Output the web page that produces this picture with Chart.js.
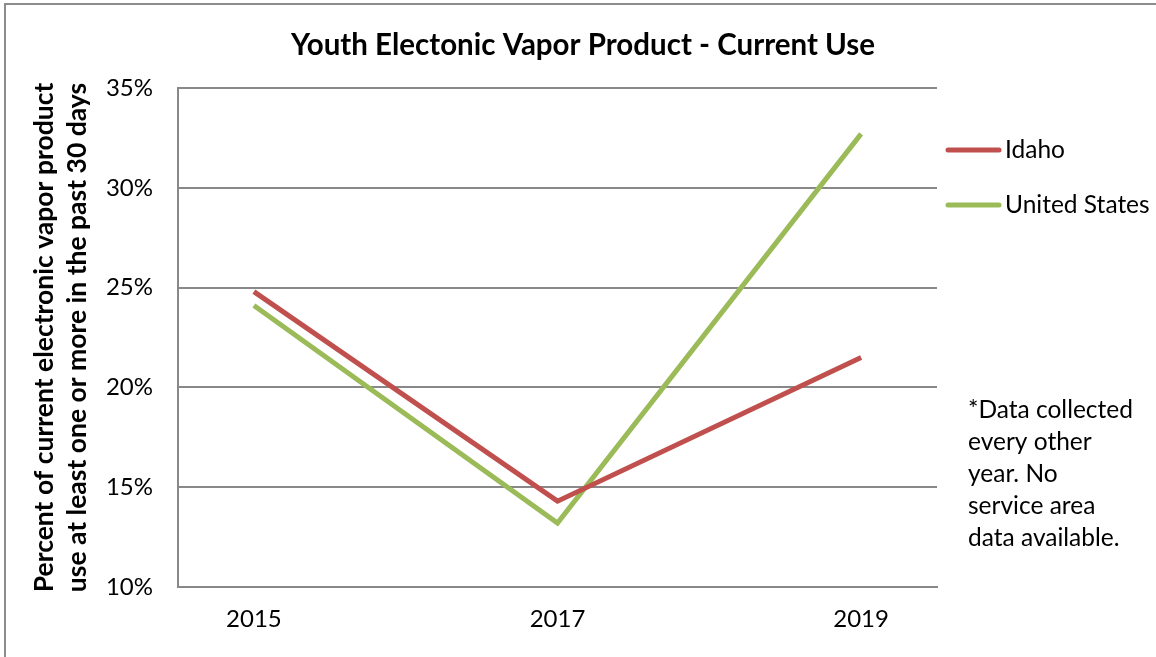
<!DOCTYPE html>
<html>
<head>
<meta charset="utf-8">
<script src="https://cdn.jsdelivr.net/npm/chart.js@4.4.1/dist/chart.umd.min.js"></script>
<style>
  html, body { margin: 0; padding: 0; background: #fff; }
  #wrap { width: 1156px; height: 657px; }
</style>
</head>
<body>
<div id="wrap"><canvas id="vaporChart" width="1156" height="657"></canvas></div>
<script>
/* datos */
const years = [2015, 2017, 2019];
const idaho = [24.8, 14.3, 21.5];
const unitedStates = [24.1, 13.2, 32.7];
const yTicks = [10, 15, 20, 25, 30, 35];
const chartTitle = 'Youth Electonic Vapor Product - Current Use';
const noteLines = ['*Data collected', 'every other', 'year. No', 'service area', 'data available.'];

const FONT = 'Lato, "Open Sans", sans-serif';
const GRID = '#888888';

const toPoints = (vals) => years.map((y, i) => ({ x: y, y: vals[i] }));

/* titulo, leyenda, nota y marco */
const extras = {
    id: 'extras',
    afterDraw(chart) {
        const ctx = chart.ctx;
        ctx.save();
        // marco exterior
        ctx.strokeStyle = '#8c8c8c';
        ctx.lineWidth = 2;
        ctx.strokeRect(5, 4, 1200, 700);

        // titulo
        ctx.fillStyle = '#000';
        ctx.font = 'bold 29.5px ' + FONT;
        ctx.textAlign = 'center';
        ctx.textBaseline = 'middle';
        ctx.fillText(chartTitle, 583, 45);

        // leyenda
        const rows = [150, 205];
        chart.data.datasets.forEach((ds, i) => {
            ctx.strokeStyle = ds.borderColor;
            ctx.lineWidth = 5;
            ctx.lineCap = 'round';
            ctx.beginPath();
            ctx.moveTo(948, rows[i]);
            ctx.lineTo(999, rows[i]);
            ctx.stroke();
            ctx.fillStyle = '#000';
            ctx.font = '24.5px ' + FONT;
            ctx.textBaseline = 'middle';
            ctx.textAlign = 'left';
            ctx.fillText(ds.label, 1005, rows[i]);
        });

        // nota
        ctx.fillStyle = '#000';
        ctx.font = '24.5px ' + FONT;
        noteLines.forEach((t, i) => ctx.fillText(t, 968, 410 + i * 32));
        ctx.restore();
    }
};

const ctx = document.getElementById('vaporChart').getContext('2d');
const myChart = new Chart(ctx, {
    type: 'line',
    data: {
        datasets: [{
            label: 'Idaho',
            data: toPoints(idaho),
            borderColor: '#C0504D',
            borderWidth: 5,
            pointRadius: 0,
            fill: false
        },
        {
            label: 'United States',
            data: toPoints(unitedStates),
            borderColor: '#9BBB59',
            borderWidth: 5,
            pointRadius: 0,
            fill: false
        }]
    },
    options: {
        responsive: false,
        animation: false,
        layout: { padding: { left: 0, right: 219, top: 88, bottom: 0 } },
        plugins: {
            legend: { display: false },
            tooltip: { enabled: false },
            title: { display: false }
        },
        scales: {
            x: {
                type: 'linear',
                min: 2014.5,
                max: 2019.5,
                afterBuildTicks: (scale) => { scale.ticks = years.map(v => ({ value: v })); },
                afterFit: (scale) => { scale.height = 70; },
                grid: { display: false, drawTicks: false },
                border: { display: true, color: GRID, width: 2 },
                ticks: {
                    color: '#000',
                    padding: 18,
                    font: { family: FONT, size: 24 },
                    callback: (v) => String(v)
                }
            },
            y: {
                min: 10,
                max: 35,
                afterBuildTicks: (scale) => { scale.ticks = yTicks.map(v => ({ value: v })); },
                afterFit: (scale) => { scale.width = 178; },
                grid: { color: GRID, lineWidth: 2, drawTicks: false },
                border: { display: true, color: GRID, width: 2 },
                ticks: {
                    color: '#000',
                    padding: 25,
                    font: { family: FONT, size: 24 },
                    callback: (v) => v + '%'
                },
                title: {
                    display: true,
                    text: ['Percent of current electronic vapor product', 'use at least one or more in the past 30 days'],
                    color: '#000',
                    font: { family: FONT, size: 26.5, weight: 'bold', lineHeight: 1.245 },
                    padding: { top: 28, bottom: 0 }
                }
            }
        }
    },
    plugins: [extras]
});
</script>
</body>
</html>
